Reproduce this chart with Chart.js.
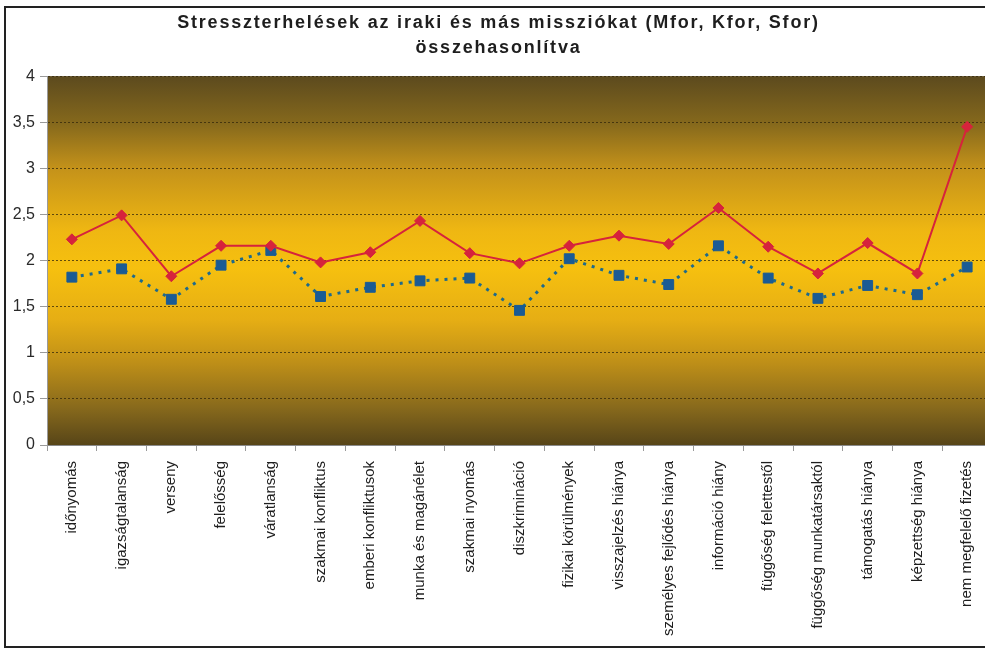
<!DOCTYPE html>
<html>
<head>
<meta charset="utf-8">
<script src="https://cdn.jsdelivr.net/npm/chart.js@4"></script>
<style>
  html, body { margin: 0; padding: 0; background: #fff; overflow: hidden; }
  #wrap { position: relative; width: 1000px; height: 649px; }
</style>
</head>
<body>
<div id="wrap"><canvas id="chart" width="1000" height="649"></canvas></div>
<script>
// kategóriák (stresszforrások)
const categories = [
    'időnyomás', 'igazságtalanság', 'verseny', 'felelősség', 'váratlanság',
    'szakmai konfliktus', 'emberi konfliktusok', 'munka és magánélet', 'szakmai nyomás',
    'diszkrimináció', 'fizikai körülmények', 'visszajelzés hiánya', 'személyes fejlődés hiánya',
    'információ hiány', 'függőség felettestől', 'függőség munkatársaktól', 'támogatás hiánya',
    'képzettség hiánya', 'nem megfelelő fizetés'
];

// piros vonal (iraki misszió)
const iraqValues = [2.23, 2.49, 1.83, 2.16, 2.16, 1.98, 2.09, 2.43, 2.08, 1.97,
    2.16, 2.27, 2.18, 2.57, 2.15, 1.86, 2.19, 1.86, 3.45];

// kék pontozott vonal (Mfor, Kfor, Sfor)
const otherValues = [1.82, 1.91, 1.58, 1.95, 2.11, 1.61, 1.71, 1.78, 1.81, 1.46,
    2.02, 1.84, 1.74, 2.16, 1.81, 1.59, 1.73, 1.63, 1.93];

const yTicks = [0, 0.5, 1, 1.5, 2, 2.5, 3, 3.5, 4];

const titleLines = ['Stresszterhelések az iraki és más missziókat (Mfor, Kfor, Sfor)', 'összehasonlítva'];

// háttér: keret + színátmenet a rajzterületen
const backgroundPlugin = {
    id: 'background',
    afterLayout: function(chart) {
        // a cím betűközét szélesebbre vesszük, mint az eredetin
        const tb = chart.titleBlock;
        if (tb && !tb._spaced) {
            const orig = tb.draw;
            tb.draw = function() {
                const c = this.ctx;
                c.save();
                c.letterSpacing = '1.8px';
                orig.apply(this, arguments);
                c.restore();
            };
            tb._spaced = true;
        }
    },
    beforeDraw: function(chart) {
        const ctx = chart.ctx;
        const a = chart.chartArea;
        ctx.save();
        ctx.fillStyle = '#ffffff';
        ctx.fillRect(0, 0, chart.width, chart.height);
        let grad = ctx.createLinearGradient(0, a.top, 0, a.bottom);
        grad.addColorStop(0, '#5c4a1e');
        grad.addColorStop(0.13, '#86691c');
        grad.addColorStop(0.25, '#c4921a');
        grad.addColorStop(0.42, '#efb712');
        grad.addColorStop(0.52, '#f6c00f');
        grad.addColorStop(0.66, '#e6ae14');
        grad.addColorStop(0.78, '#bd8e18');
        grad.addColorStop(0.9, '#87691c');
        grad.addColorStop(1, '#574518');
        ctx.fillStyle = grad;
        ctx.fillRect(a.left, a.top, a.right - a.left, a.bottom - a.top);
        ctx.restore();
    },
    afterDraw: function(chart) {
        const ctx = chart.ctx;
        ctx.save();
        ctx.strokeStyle = '#222';
        ctx.lineWidth = 2;
        ctx.strokeRect(5, 7, chart.width + 50, chart.height - 9);
        ctx.restore();
    }
};

const ctx = document.getElementById('chart').getContext('2d');
const chart = new Chart(ctx, {
    type: 'line',
    data: {
        labels: categories,
        datasets: [{
            label: 'iraki',
            data: iraqValues,
            borderColor: '#d6233c',
            backgroundColor: '#d6233c',
            borderWidth: 2,
            pointStyle: 'rectRot',
            pointRadius: 5.5,
            pointBorderWidth: 1,
            tension: 0
        }, {
            label: 'Mfor, Kfor, Sfor',
            data: otherValues,
            borderColor: '#1d6a8c',
            backgroundColor: '#1a5b94',
            pointBorderColor: '#1a5b94',
            borderWidth: 3,
            borderDash: [3, 6],
            pointStyle: 'rect',
            pointRadius: 7,
            pointBorderWidth: 1,
            tension: 0
        }]
    },
    options: {
        responsive: false,
        animation: false,
        devicePixelRatio: 1,
        layout: { padding: { left: 0, right: 3, top: 0, bottom: 0 } },
        plugins: {
            legend: { display: false },
            tooltip: { enabled: false },
            title: {
                display: true,
                text: titleLines,
                color: '#1e1e1e',
                font: { family: "'Liberation Sans', Arial, sans-serif", size: 18, weight: 'bold', lineHeight: 1.42 },
                padding: { top: 10, bottom: 15 }
            }
        },
        scales: {
            x: {
                offset: true,
                grid: { drawOnChartArea: false, drawTicks: true, tickLength: 6, color: '#9a9a9a', offset: true },
                border: { display: true, color: '#8a8a8a' },
                ticks: {
                    minRotation: 90,
                    maxRotation: 90,
                    autoSkip: false,
                    padding: 10,
                    color: '#1e1e1e',
                    font: { family: "'Liberation Sans', Arial, sans-serif", size: 15 }
                },
                afterFit: function(scale) { scale.height = 204; }
            },
            y: {
                min: 0,
                max: 4,
                afterBuildTicks: function(scale) {
                    scale.ticks = yTicks.map(v => ({ value: v }));
                },
                grid: {
                    color: 'rgba(50, 38, 10, 0.75)',
                    borderDash: [3, 2],
                    tickColor: '#9a9a9a',
                    tickBorderDash: [],
                    tickLength: 7,
                    lineWidth: 1
                },
                border: { display: true, color: '#9a9a9a', dash: [2, 2] },
                ticks: {
                    padding: 5,
                    color: '#2a2a2a',
                    font: { family: "'Liberation Sans', Arial, sans-serif", size: 16 },
                    callback: function(v) { return String(v).replace('.', ','); }
                },
                afterFit: function(scale) { scale.width = 47; }
            }
        }
    },
    plugins: [backgroundPlugin]
});
</script>
</body>
</html>
